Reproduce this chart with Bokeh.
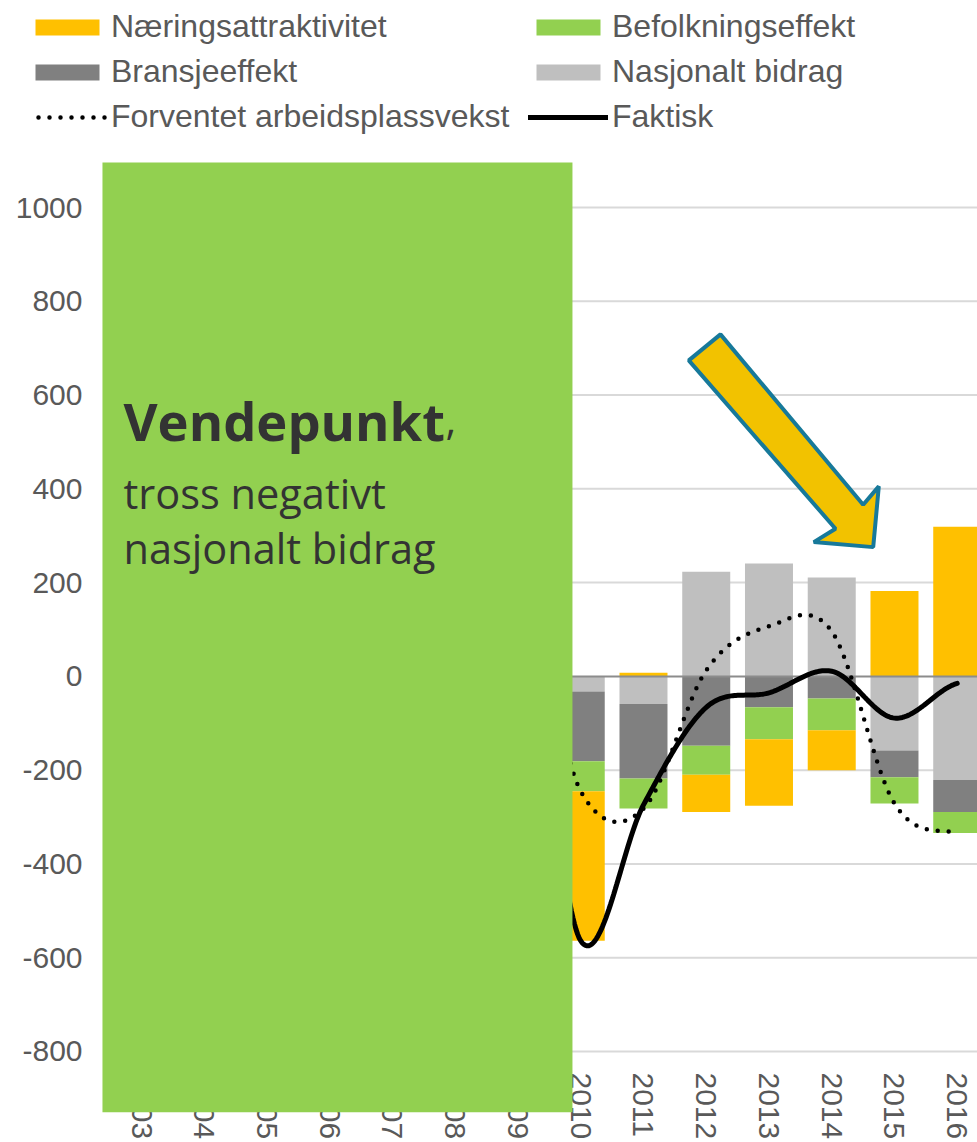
import math
from bokeh.plotting import figure
from bokeh.models import (ColumnDataSource, FixedTicker, Legend, LegendItem, BoxAnnotation,
                          Label, PolyAnnotation, Range1d)
from bokeh.embed import file_html
from bokeh.resources import INLINE

# ---------------- data ----------------
YEARS = list(range(2003, 2017))
YTICKS = [-800, -600, -400, -200, 0, 200, 400, 600, 800, 1000]

BAR_YEARS = [2010, 2011, 2012, 2013, 2014, 2015, 2016]
NASJONALT = [-32, -59, 223, 241, 211, -158, -221]
BRANSJE = [-149, -159, -148, -66, -47, -57, -68]
BEFOLKNING = [-64, -64, -62, -68, -68, -56, -45]
NARING = [-319, 8, -79, -142, -85, 182, 319]

LINE_YEARS = [2008, 2009, 2010, 2011, 2012, 2013, 2014, 2015, 2016]
FORVENTET = [-245, 196, -245, -282, 13, 107, 96, -271, -334]
FAKTISK = [-564, 136, -564, -274, -66, -35, 11, -89, -15]

# decorative arrow (data coordinates)
ARROW_X = [2011.722, 2012.227, 2014.501, 2014.750, 2014.661, 2013.714, 2014.060]
ARROW_Y = [673.9, 729.4, 366.2, 405.2, 275.7, 286.4, 315.0]

C_NARING = "#FFC000"
C_BEFOLK = "#92D050"
C_BRANSJE = "#808080"
C_NASJ = "#BFBFBF"
TXT = "#595959"

X_START, X_END = 2001.231, 2016.323
Y_START, Y_END = -930.1, 1441.5
GRID_LEFT = 2002.506


def smooth(xs, ys, n=40):
    ox, oy = [], []
    N = len(xs)
    m = []
    for i in range(N):
        if i == 0:
            m.append((ys[1] - ys[0]) / 2)
        elif i == N - 1:
            m.append((ys[-1] - ys[-2]) / 2)
        else:
            m.append((ys[i + 1] - ys[i - 1]) / 2)
    for i in range(N - 1):
        for k in range(n + (1 if i == N - 2 else 0)):
            t = k / n
            h00 = 2 * t**3 - 3 * t**2 + 1
            h10 = t**3 - 2 * t**2 + t
            h01 = -2 * t**3 + 3 * t**2
            h11 = t**3 - t**2
            ox.append(xs[i] + t * (xs[i + 1] - xs[i]))
            oy.append(h00 * ys[i] + h10 * m[i] + h01 * ys[i + 1] + h11 * m[i + 1])
    return ox, oy


series = [("Nasjonalt bidrag", NASJONALT, C_NASJ),
          ("Bransjeeffekt", BRANSJE, C_BRANSJE),
          ("Befolkningseffekt", BEFOLKNING, C_BEFOLK),
          ("Næringsattraktivitet", NARING, C_NARING)]

p = figure(width=977, height=1142, output_backend="svg", toolbar_location=None,
           x_range=Range1d(X_START, X_END), y_range=Range1d(Y_START, Y_END),
           min_border_left=30, min_border_right=0, min_border_top=0, min_border_bottom=30)
p.outline_line_color = None
p.background_fill_color = "white"
p.grid.visible = False

# gridlines (start at the plot-area edge, like the original)
grid_y = [t for t in YTICKS if t != 0]
p.segment(x0=[GRID_LEFT] * len(grid_y), x1=[X_END] * len(grid_y), y0=grid_y, y1=grid_y,
          line_color="#D9D9D9", line_width=2)

pos = [0.0] * len(BAR_YEARS)
neg = [0.0] * len(BAR_YEARS)
rend = {}
for name, vals, col in series:
    bot, top = [], []
    for i, v in enumerate(vals):
        if v >= 0:
            bot.append(pos[i]); top.append(pos[i] + v); pos[i] += v
        else:
            top.append(neg[i]); bot.append(neg[i] + v); neg[i] += v
    src = ColumnDataSource(dict(x=BAR_YEARS, bottom=bot, top=top))
    rend[name] = p.vbar(x="x", bottom="bottom", top="top", width=0.765, source=src,
                        fill_color=col, line_color=None)

# zero axis line
p.segment(x0=[GRID_LEFT], x1=[X_END], y0=[0], y1=[0], line_color="#8C8C8C", line_width=2)

fx, fy = smooth(LINE_YEARS, FORVENTET)
r_forv = p.line(fx, fy, line_color="black", line_width=4.5, line_dash="0 11", line_cap="round")
ax, ay = smooth(LINE_YEARS, FAKTISK)
r_fakt = p.line(ax, ay, line_color="black", line_width=5, line_cap="round")

# axes
p.yaxis.ticker = FixedTicker(ticks=YTICKS)
p.yaxis.major_label_overrides = {t: str(t) for t in YTICKS}
p.yaxis.major_label_text_font = "Liberation Sans"
p.yaxis.major_label_text_font_size = "30px"
p.yaxis.major_label_text_color = TXT
p.yaxis.axis_line_color = None
p.yaxis.major_tick_line_color = None
p.yaxis.minor_tick_line_color = None
p.yaxis.major_label_standoff = -58

p.xaxis.ticker = FixedTicker(ticks=YEARS)
p.xaxis.major_label_overrides = {y: str(y) for y in YEARS}
p.xaxis.major_label_orientation = -math.pi / 2
p.xaxis.major_label_text_font = "Liberation Sans"
p.xaxis.major_label_text_font_size = "30px"
p.xaxis.major_label_text_color = TXT
p.xaxis.axis_line_color = None
p.xaxis.major_tick_line_color = None
p.xaxis.minor_tick_line_color = None
p.xaxis.major_label_standoff = -46

# legend (filled column by column: left column first, then right column)
items = [LegendItem(label="Næringsattraktivitet", renderers=[rend["Næringsattraktivitet"]]),
         LegendItem(label="Bransjeeffekt", renderers=[rend["Bransjeeffekt"]]),
         LegendItem(label="Forventet arbeidsplassvekst", renderers=[r_forv]),
         LegendItem(label="Befolkningseffekt", renderers=[rend["Befolkningseffekt"]]),
         LegendItem(label="Nasjonalt bidrag", renderers=[rend["Nasjonalt bidrag"]]),
         LegendItem(label="Faktisk", renderers=[r_fakt])]
legend = Legend(items=items, ncols=2, location=(-3, 977), glyph_width=80, glyph_height=20,
                label_standoff=4, label_text_font="Liberation Sans", label_text_font_size="32px",
                label_text_color=TXT, spacing=8, padding=0, margin=0,
                border_line_alpha=0, background_fill_alpha=0, label_width=409, label_height=33)
p.add_layout(legend, "center")

# arrow
p.add_layout(PolyAnnotation(xs=ARROW_X, ys=ARROW_Y, fill_color="#F2C200", fill_alpha=1,
                            line_color="#17799A", line_alpha=1, line_width=4))

# green panel
p.add_layout(BoxAnnotation(left=2002.378, right=2009.868, top=1096.2, bottom=Y_START,
                           fill_color=C_BEFOLK, fill_alpha=1, line_color=None, level="overlay"))
p.add_layout(Label(x=2002.713, y=546.0, text="Vendepunkt", text_font="Open Sans",
                   text_font_style="bold", text_font_size="52.5px", text_color="#333333",
                   text_baseline="alphabetic", level="overlay"))
p.add_layout(Label(x=2007.845, y=546.0, text=",", text_font="Open Sans",
                   text_font_size="41.5px", text_color="#333333",
                   text_baseline="alphabetic", level="overlay"))
p.add_layout(Label(x=2002.713, y=390.3, text="tross negativt", text_font="Open Sans",
                   text_font_size="41.5px", text_color="#333333",
                   text_baseline="alphabetic", level="overlay"))
p.add_layout(Label(x=2002.713, y=273.0, text="nasjonalt bidrag", text_font="Open Sans",
                   text_font_size="41.5px", text_color="#333333",
                   text_baseline="alphabetic", level="overlay"))

open("out.html", "w").write(file_html(p, INLINE))
